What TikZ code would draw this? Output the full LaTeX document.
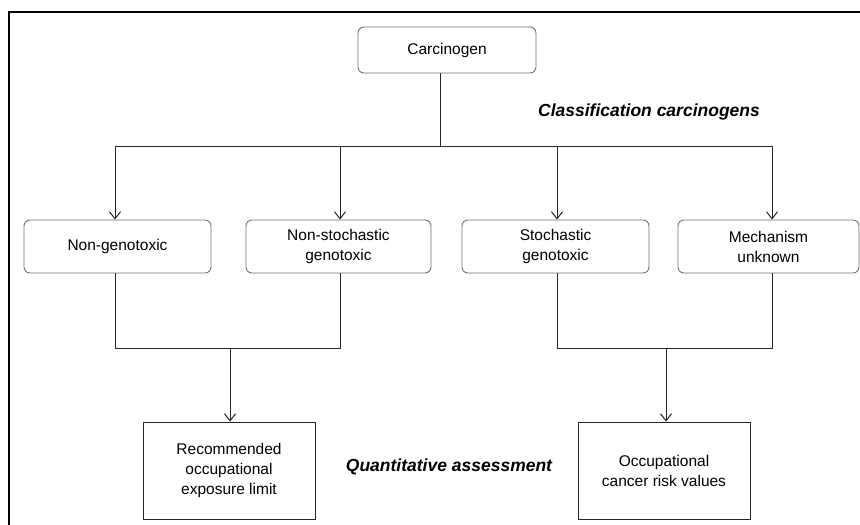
\documentclass[tikz,border=0pt]{standalone}
\usepackage{fontspec}
\setmainfont{Liberation Sans}
\usetikzlibrary{arrows.meta}
\tikzset{
  rbox/.style={draw=black!55, rounded corners=6pt, line width=0.9pt, align=center, inner sep=2pt, font=\fontsize{15.5}{20}\selectfont},
  sbox/.style={draw=black!85, line width=0.9pt, align=center, inner sep=2pt, font=\fontsize{15.5}{20}\selectfont},
  conn/.style={draw=black!85, line width=1pt},
  arr/.style={conn, -{Straight Barb[length=7pt,width=11pt,line width=1pt]}},
  lbl/.style={font=\fontsize{17.5}{21}\selectfont\bfseries\itshape}
}
\begin{document}
\begin{tikzpicture}[x=1pt,y=-1pt]
\path[use as bounding box] (0,0) rectangle (860,525);
\fill[white] (0,0) rectangle (860,525);
\draw[line width=2.5pt] (9,540) -- (9,12) -- (880,12);

\node[rbox, minimum width=178pt, minimum height=46pt] (carc) at (447,50) {Carcinogen};
\node[rbox, minimum width=187pt, minimum height=53pt] (ng) at (117.5,246.5) {Non-genotoxic};
\node[rbox, minimum width=185pt, minimum height=53pt] (nsg) at (338.5,246.5) {Non-stochastic\\genotoxic};
\node[rbox, minimum width=187pt, minimum height=53pt] (sg) at (555.5,246.5) {Stochastic\\genotoxic};
\node[rbox, minimum width=181pt, minimum height=53pt] (mu) at (768.5,246.5) {Mechanism\\unknown};
\node[sbox, minimum width=172pt, minimum height=97pt] (rel) at (229,470.5) {Recommended\\occupational\\exposure limit};
\node[sbox, minimum width=172pt, minimum height=97pt] (ocr) at (664,470.5) {Occupational\\cancer risk values};

\node[lbl] (cl) at (649,112) {Classification carcinogens};
\node[lbl] (qa) at (449,467) {Quantitative assessment};

% top bus
\coordinate (t0) at (440,146);
\coordinate (t1) at (115,146);
\coordinate (t2) at (340,146);
\coordinate (t3) at (557,146);
\coordinate (t4) at (772,146);
\draw[conn] (carc.south -| t0) -- (t0);
\draw[conn] (t1) -- (t4);
\draw[arr] (t1) -- (t1 |- ng.north);
\draw[arr] (t2) -- (t2 |- nsg.north);
\draw[arr] (t3) -- (t3 |- sg.north);
\draw[arr] (t4) -- (t4 |- mu.north);

% left merge
\coordinate (l1) at (115,348);
\coordinate (l2) at (340,348);
\coordinate (l0) at (230,348);
\draw[conn] (l1 |- ng.south) -- (l1) -- (l2) -- (l2 |- nsg.south);
\draw[arr] (l0) -- (l0 |- rel.north);

% right merge
\coordinate (r1) at (557,348);
\coordinate (r2) at (772,348);
\coordinate (r0) at (666,348);
\draw[conn] (r1 |- sg.south) -- (r1) -- (r2) -- (r2 |- mu.south);
\draw[arr] (r0) -- (r0 |- ocr.north);
\end{tikzpicture}
\end{document}
